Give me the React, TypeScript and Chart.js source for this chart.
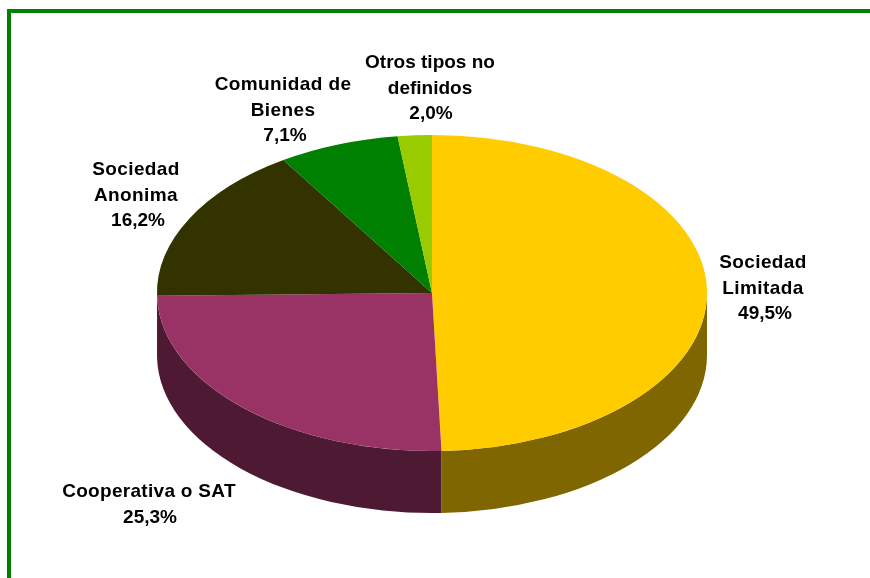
import React, { useEffect, useRef } from "react";
import { Chart, registerables } from "chart.js";

Chart.register(...registerables);

const categories = [
  ["Sociedad", "Limitada"],
  ["Cooperativa o SAT"],
  ["Sociedad", "Anonima"],
  ["Comunidad de", "Bienes"],
  ["Otros tipos no", "definidos"],
];
const shares = [49.5, 25.3, 16.2, 7.1, 2.0];
const topColors = ["#FFCC00", "#993366", "#333300", "#008000", "#99CC00"];
const wallColors = ["#806600", "#4D1933", "#1A1A00", "#004000", "#4D6600"];
const labelCenters = [
  [763, 263],
  [149, 492],
  [136, 170],
  [283, 85],
  [430, 63],
];
const percentCenterX = [765, 150, 138, 285, 431];
const labelSpacing = [0.4, 0.3, 0.4, 0.4, 0];

const TILT = 158 / 275;
const DEPTH_PX = 62;
const CENTER_Y = 293;
const LINE_HEIGHT = 25.5;

const pie3d = {
  id: "pie3d",
  beforeDatasetsDraw(chart: any) {
    const ctx = chart.ctx;
    ctx.save();
    ctx.translate(0, CENTER_Y);
    ctx.scale(1, TILT);
    ctx.translate(0, -CENTER_Y);
    const arcs = chart.getDatasetMeta(0).data;
    const depth = DEPTH_PX / TILT;
    const seams: number[][] = [];
    arcs.forEach((el: any, i: number) => {
      const { x, y, startAngle, endAngle, outerRadius } = el.getProps(
        ["x", "y", "startAngle", "endAngle", "outerRadius"],
        true
      );
      const a0 = Math.max(startAngle, 0);
      const a1 = Math.min(endAngle, Math.PI);
      if (a1 <= a0) return;
      ctx.beginPath();
      ctx.arc(x, y, outerRadius, a0, a1);
      ctx.arc(x, y + depth, outerRadius, a1, a0, true);
      ctx.closePath();
      ctx.fillStyle = wallColors[i];
      ctx.fill();
      if (endAngle < Math.PI - 0.1) {
        seams.push([x + outerRadius * Math.cos(endAngle), y + outerRadius * Math.sin(endAngle), depth]);
      }
    });
    seams.forEach(([ex, ey, d]) => {
      ctx.beginPath();
      ctx.moveTo(ex, ey);
      ctx.lineTo(ex, ey + d);
      ctx.strokeStyle = "#8A6A70";
      ctx.lineWidth = 1;
      ctx.stroke();
    });
  },
  afterDatasetsDraw(chart: any) {
    chart.ctx.restore();
  },
  afterDraw(chart: any) {
    const ctx = chart.ctx;
    ctx.save();
    ctx.font = 'bold 19px "Liberation Sans", Arial, sans-serif';
    ctx.fillStyle = "#000000";
    ctx.textAlign = "center";
    ctx.textBaseline = "middle";
    categories.forEach((cat, i) => {
      const [cx, cy] = labelCenters[i];
      (ctx as any).letterSpacing = labelSpacing[i] + "px";
      cat.forEach((line, k) => ctx.fillText(line, cx, cy + k * LINE_HEIGHT));
      (ctx as any).letterSpacing = "0px";
      ctx.fillText(
        shares[i].toFixed(1).replace(".", ",") + "%",
        percentCenterX[i],
        cy + cat.length * LINE_HEIGHT
      );
    });
    ctx.restore();
  },
};

export default function App() {
  const ref = useRef<HTMLCanvasElement>(null);
  useEffect(() => {
    const chart = new Chart(ref.current as HTMLCanvasElement, {
      type: "pie",
      data: {
        labels: categories.map((c) => c.join(" ")),
        datasets: [
          {
            data: shares,
            backgroundColor: topColors,
            borderWidth: 0,
            clip: false,
          } as any,
        ],
      },
      options: {
        responsive: false,
        animation: false,
        layout: { padding: { left: 0, right: 6, top: 18, bottom: 10 } },
        plugins: { legend: { display: false }, tooltip: { enabled: false } },
      },
      plugins: [pie3d],
    });
    return () => chart.destroy();
  }, []);
  return (
    <div style={{ position: "fixed", left: 0, top: 0, width: 870, height: 578, background: "#fff", overflow: "hidden" }}>
      <canvas ref={ref} width={870} height={578} style={{ position: "absolute", left: 0, top: 0 }} />
      <div style={{ position: "absolute", left: 7, top: 9, right: 0, height: 4, background: "#008000" }} />
      <div style={{ position: "absolute", left: 7, top: 9, bottom: 0, width: 4, background: "#008000" }} />
    </div>
  );
}
